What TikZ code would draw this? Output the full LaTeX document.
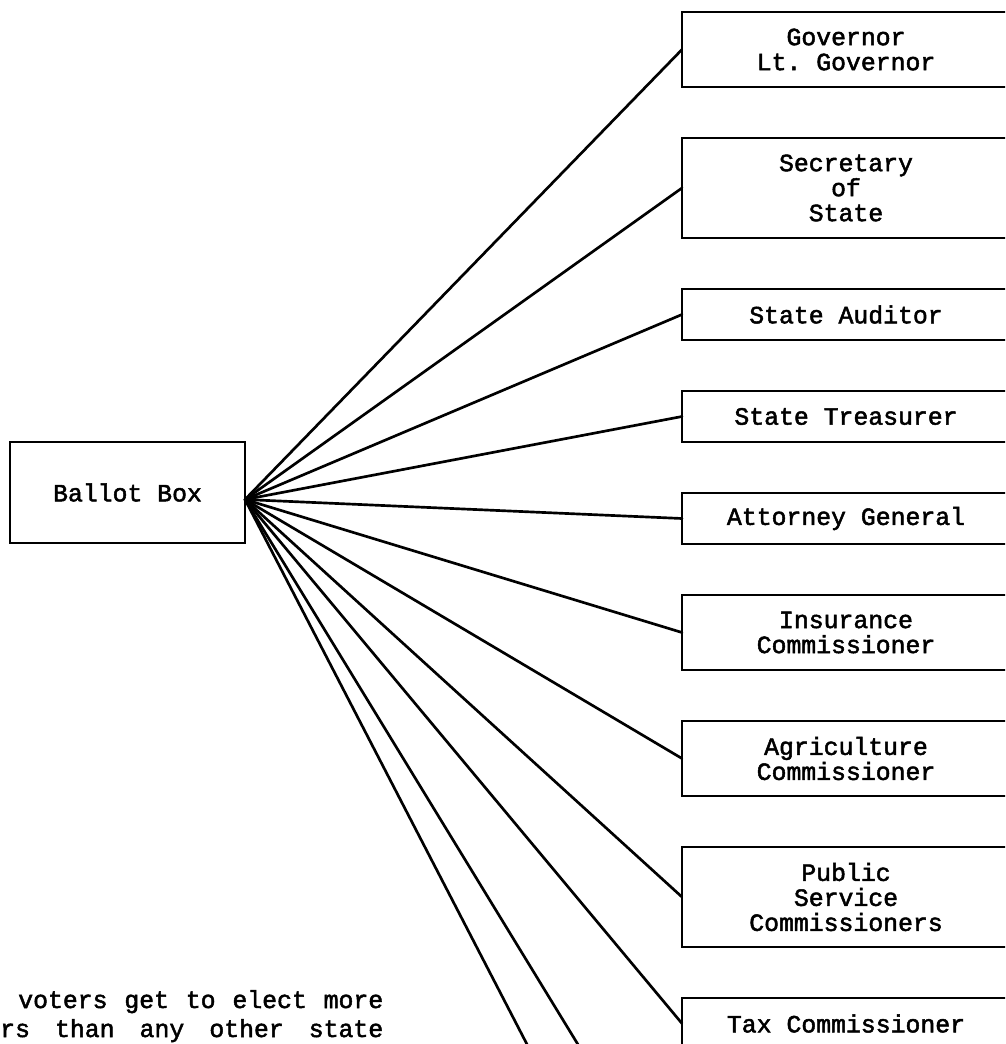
\documentclass[tikz,border=0pt]{standalone}
\usepackage{fontspec}
\newfontfamily\typerfont[FakeBold=2]{Liberation Mono}
\usetikzlibrary{positioning}

\newcommand{\typer}{\typerfont\fontsize{18.6pt}{18.75pt}\selectfont\frenchspacing}

\begin{document}
\begin{tikzpicture}[
        x=0.75pt, y=-0.75pt,
        node distance=38.25pt,
        ballotbox/.style={rectangle, draw=black, line width=2pt, minimum width=176.25pt, minimum height=75.75pt, inner sep=0pt, outer sep=0pt, font=\typer},
        office/.style={rectangle, draw=black, line width=2pt, minimum width=246pt, inner sep=0pt, outer sep=0pt, align=center, font=\typer},
        wire/.style={line width=2pt, line cap=round},
        note/.style={anchor=base west, inner sep=0pt, font=\typer},
    ]
        % Page area - the scan is cut off at right and bottom
        \useasboundingbox (0,0) rectangle (1005,1044);
        \clip (0,0) rectangle (1005,1044);

        % Left - the ballot box
        \node (ballot) [ballotbox] at (127.5,492.5) {Ballot Box};
        \coordinate (hub) at ([yshift=-5.25pt]ballot.east);

        % Right column - elected offices, top to bottom
        \node (governor) [office, minimum height=56.25pt, anchor=north west] at (682,12) {Governor\\Lt. Governor};
        \node (secretary) [office, minimum height=75pt, below=of governor] {Secretary\\of\\State};
        \node (auditor) [office, minimum height=38.25pt, below=of secretary] {State Auditor};
        \node (treasurer) [office, minimum height=38.25pt, below=of auditor] {State Treasurer};
        \node (attorney) [office, minimum height=38.25pt, below=of treasurer] {Attorney General};
        \node (insurance) [office, minimum height=56.25pt, below=of attorney] {Insurance\\Commissioner};
        \node (agriculture) [office, minimum height=56.25pt, below=of insurance] {Agriculture\\Commissioner};
        \node (publicsvc) [office, minimum height=75pt, below=of agriculture] {Public\\Service\\Commissioners};
        \node (taxcomm) [office, minimum height=38.25pt, below=of publicsvc] {Tax Commissioner};

        % Offices further down, off the page
        \coordinate (offpage1) at (561,1110);
        \coordinate (offpage2) at (618,1110);

        % Connectors from the ballot box
        \draw [wire] (hub) -- (governor.west);
        \draw [wire] (hub) -- (secretary.west);
        \draw [wire] (hub) -- (auditor.west);
        \draw [wire] (hub) -- (treasurer.west);
        \draw [wire] (hub) -- (attorney.west);
        \draw [wire] (hub) -- (insurance.west);
        \draw [wire] (hub) -- (agriculture.west);
        \draw [wire] (hub) -- (publicsvc.west);
        \draw [wire] (hub) -- (taxcomm.west);
        \draw [wire] (hub) -- (offpage1);
        \draw [wire] (hub) -- (offpage2);

        % Body text at the bottom left
        \node (textA) [note] at (18,1008) {\makebox[273.75pt]{voters \hfill get \hfill to \hfill elect \hfill more}};
        \node (textB) [note] at (0,1037) {\makebox[287.25pt]{rs \hfill than \hfill any \hfill other \hfill state}};
\end{tikzpicture}
\end{document}
